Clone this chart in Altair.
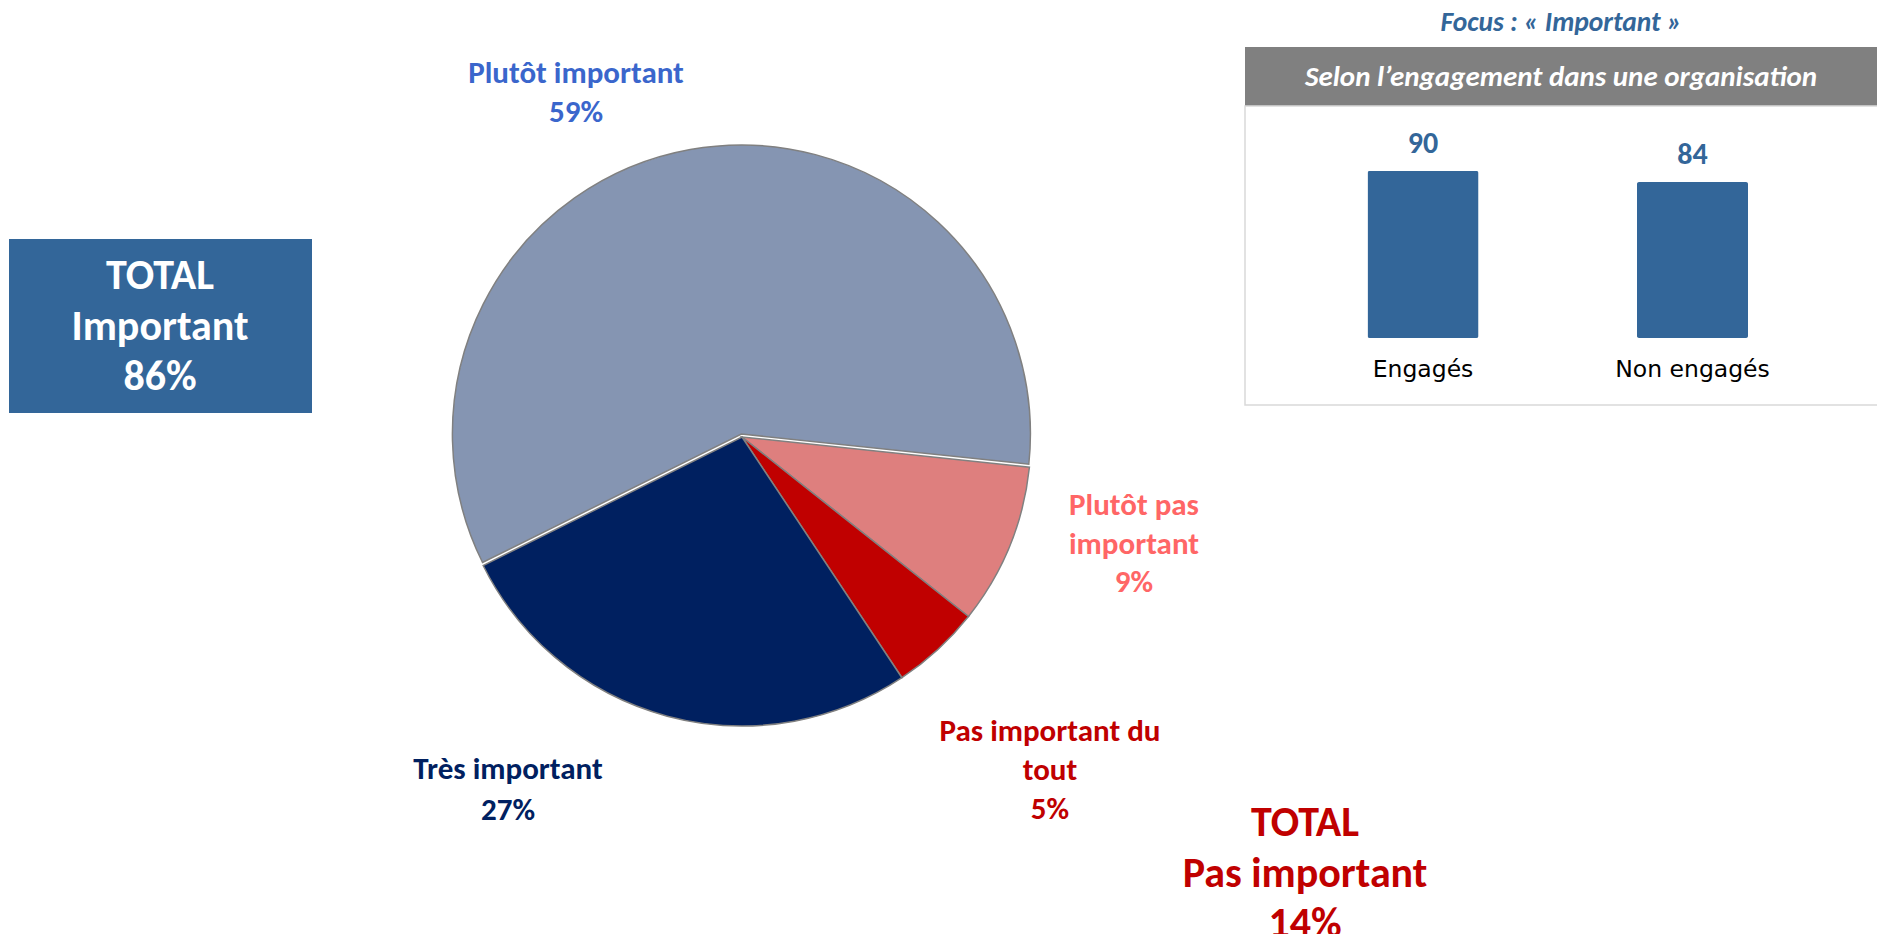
import math
import altair as alt
import pandas as pd

# ---------------- data ----------------
pie_categories = ["Plutôt pas important", "Pas important du tout", "Très important", "Plutôt important"]
pie_values = [9, 5, 27, 59]
pie_label_lines = [["Plutôt pas", "important"], ["Pas important du", "tout"], ["Très important"], ["Plutôt important"]]
pie_colors = ["#DE7F7E", "#C00000", "#002060", "#8595B2"]
label_colors = ["#FF6666", "#C00000", "#002060", "#3A66CC"]
exploded = "Plutôt important"

groups = ["Engagés", "Non engagés"]
group_values = [90, 84]

total_important = 86
total_pas_important = 14

focus_title = "Focus : « Important »"
panel_title = "Selon l’engagement dans une organisation"

# ---------------- tables ----------------
pie_df = pd.DataFrame({"cat": pie_categories, "value": pie_values, "order": list(range(len(pie_values)))})
bar_df = pd.DataFrame({"group": groups, "value": group_values})

FONT = "Carlito, Lato, sans-serif"
start = math.radians(96)

def note(text, x, y, size, color, lh=None, weight="bold", style="normal", font=FONT, align="center"):
    return alt.Chart(alt.Data(values=[{"t": text}])).mark_text(
        font=font, fontSize=size, fontWeight=weight, fontStyle=style, color=color,
        align=align, baseline="alphabetic", lineBreak="\n", lineHeight=lh if lh else size * 1.2,
    ).encode(text="t:N", x=alt.value(x), y=alt.value(y))

def box(x1, x2, y1, y2, **kw):
    return alt.Chart(alt.Data(values=[{}])).mark_rect(**kw).encode(
        x=alt.value(x1), x2=alt.value(x2), y=alt.value(y1), y2=alt.value(y2))

# pie
theta_scale = alt.Scale(domain=[0, sum(pie_values)], range=[start, start + 2 * math.pi], nice=False, zero=True)
pie_base = alt.Chart(pie_df).transform_stack(
    stack="value", groupby=[], as_=["v0", "v1"], sort=[alt.SortField("order", order="ascending")]
)
def slices(cond, cx, cy):
    return pie_base.transform_filter(cond).mark_arc(radius=289, stroke="#808080", strokeWidth=1.5).encode(
        theta=alt.Theta("v0:Q", scale=theta_scale),
        theta2="v1:Q",
        color=alt.Color("cat:N", scale=alt.Scale(domain=pie_categories, range=pie_colors), legend=None),
        x=alt.value(cx), y=alt.value(cy),
    )
pie_rest = slices(f"datum.cat != '{exploded}'", 734, 429)
pie_expl = slices(f"datum.cat == '{exploded}'", 733.4, 426)

label_pos = [(1126, 507, 38.5), (1042, 733, 39), (500, 771, 41), (568, 75, 39)]
pie_labels = [
    note("\n".join(lines + [f"{v}%"]), x, y, 31, c, lh)
    for lines, v, c, (x, y, lh) in zip(pie_label_lines, pie_values, label_colors, label_pos)
]

# totals
left_box = box(1, 304, 231, 405, color="#336699")
left_text = note(f"TOTAL\nImportant\n{total_important}%", 152, 281, 42, "white", 50.5)
right_text = note(f"TOTAL\nPas important\n{total_pas_important}%", 1297, 828, 42, "#C00000", 50.5)

# focus panel
focus = note(focus_title, 1553, 23, 27.5, "#336699", style="italic")
header = box(1237, 1871, 39, 98, color="#808080")
header_text = note(panel_title, 1553, 78, 29, "white", style="italic")
border = box(1237, 1871, 98, 397, fillOpacity=0, stroke="#D9D9D9", strokeWidth=1.5)

xenc = alt.X("group:N", sort=groups, axis=None,
             scale=alt.Scale(domain=groups, range=[1280.25, 1819.25], paddingInner=0.588, paddingOuter=0.294))
yenc = alt.Y("value:Q", axis=None, scale=alt.Scale(domain=[0, 100], range=[330, 144.4], nice=False))

bars = alt.Chart(bar_df).mark_bar(color="#336699", cornerRadius=2).encode(x=xenc, y=yenc)
bar_vals = alt.Chart(bar_df).mark_text(
    font=FONT, fontSize=30, fontWeight="bold", color="#336699", baseline="alphabetic", dy=-18
).encode(x=xenc, y=yenc, text="value:Q")
bar_labels = alt.Chart(bar_df).mark_text(
    font="DejaVu Sans", fontSize=23.5, color="#000000", baseline="alphabetic"
).encode(x=xenc, y=alt.value(369), text="group:N")

chart = alt.layer(
    left_box, header, border, pie_rest, pie_expl, bars, bar_vals, bar_labels,
    *pie_labels, left_text, right_text, focus, header_text,
).properties(
    width=1869, height=926, padding=0, autosize=alt.AutoSizeParams(type="none"), background="white"
).configure_view(strokeWidth=0)

chart.save("out.html", embed_options={"renderer": "svg", "actions": False})
